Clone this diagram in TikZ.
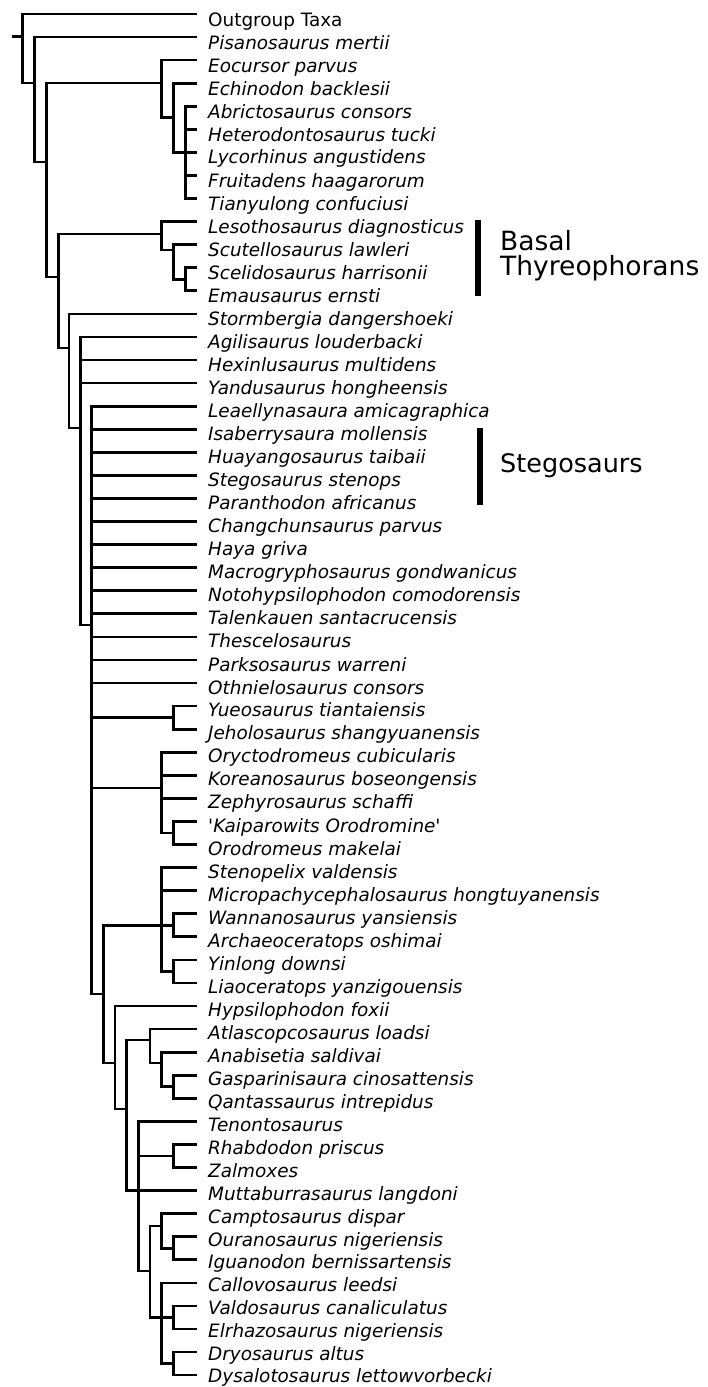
\documentclass[tikz,border=0pt]{standalone}
\usepackage{fontspec}
\setmainfont{DejaVu Sans}
\begin{document}
\begin{tikzpicture}[x=1pt,y=-1pt,
  branch/.style={line width=2.7pt},
  taxon/.style={anchor=base west,inner sep=0pt,xshift=11pt,yshift=#1,font=\fontsize{18.4}{22}\selectfont\itshape},
  taxon/.default=-10.5pt,
  cladebar/.style={line width=6.5pt},
  grouplabel/.style={inner sep=0pt,font=\fontsize{25.5}{25}\selectfont,align=left}]
\useasboundingbox (0,0) rectangle (708,1387);
% Tips (branch ends) and taxon names
\coordinate (t1) at (197,14.0);    \node[taxon=-12pt] (l1) at (t1) {\upshape Outgroup Taxa};
\coordinate (t2) at (197,37.1);    \node[taxon=-12pt] (l2) at (t2) {Pisanosaurus mertii};
\coordinate (t3) at (197,60.1);    \node[taxon=-12pt] (l3) at (t3) {Eocursor parvus};
\coordinate (t4) at (197,83.2);    \node[taxon=-12pt] (l4) at (t4) {Echinodon backlesii};
\coordinate (t5) at (197,106.3);   \node[taxon=-12pt] (l5) at (t5) {Abrictosaurus consors};
\coordinate (t6) at (197,129.4);   \node[taxon=-12pt] (l6) at (t6) {Heterodontosaurus tucki};
\coordinate (t7) at (197,152.4);   \node[taxon=-11.5pt] (l7) at (t7) {Lycorhinus angustidens};
\coordinate (t8) at (197,175.5);   \node[taxon=-11.5pt] (l8) at (t8) {Fruitadens haagarorum};
\coordinate (t9) at (197,198.6);   \node[taxon=-11.5pt] (l9) at (t9) {Tianyulong confuciusi};
\coordinate (t10) at (197,221.6);  \node[taxon=-11.5pt] (l10) at (t10) {Lesothosaurus diagnosticus};
\coordinate (t11) at (197,244.7);  \node[taxon=-11.5pt] (l11) at (t11) {Scutellosaurus lawleri};
\coordinate (t12) at (197,267.8);  \node[taxon=-11.5pt] (l12) at (t12) {Scelidosaurus harrisonii};
\coordinate (t13) at (197,290.8);  \node[taxon=-11.5pt] (l13) at (t13) {Emausaurus ernsti};
\coordinate (t14) at (197,313.9);  \node[taxon=-11.5pt] (l14) at (t14) {Stormbergia dangershoeki};
\coordinate (t15) at (197,337.0);  \node[taxon=-11.5pt] (l15) at (t15) {Agilisaurus louderbacki};
\coordinate (t16) at (197,360.1);  \node[taxon=-11pt] (l16) at (t16) {Hexinlusaurus multidens};
\coordinate (t17) at (197,383.1);  \node[taxon=-11pt] (l17) at (t17) {Yandusaurus hongheensis};
\coordinate (t18) at (197,406.2);  \node[taxon=-11pt] (l18) at (t18) {Leaellynasaura amicagraphica};
\coordinate (t19) at (197,429.3);  \node[taxon=-11pt] (l19) at (t19) {Isaberrysaura mollensis};
\coordinate (t20) at (197,452.3);  \node[taxon=-11pt] (l20) at (t20) {Huayangosaurus taibaii};
\coordinate (t21) at (197,475.4);  \node[taxon=-11pt] (l21) at (t21) {Stegosaurus stenops};
\coordinate (t22) at (197,498.5);  \node[taxon=-11pt] (l22) at (t22) {Paranthodon africanus};
\coordinate (t23) at (197,521.5);  \node[taxon=-11pt] (l23) at (t23) {Changchunsaurus parvus};
\coordinate (t24) at (197,544.6);  \node[taxon=-11pt] (l24) at (t24) {Haya griva};
\coordinate (t25) at (197,567.7);  \node[taxon=-11pt] (l25) at (t25) {Macrogryphosaurus gondwanicus};
\coordinate (t26) at (197,590.8);  \node[taxon=-11pt] (l26) at (t26) {Notohypsilophodon comodorensis};
\coordinate (t27) at (197,613.8);  \node[taxon=-11pt] (l27) at (t27) {Talenkauen santacrucensis};
\coordinate (t28) at (197,636.9);  \node[taxon=-11pt] (l28) at (t28) {Thescelosaurus};
\coordinate (t29) at (197,660.0);  \node[taxon=-11pt] (l29) at (t29) {Parksosaurus warreni};
\coordinate (t30) at (197,683.0);  \node[taxon=-11pt] (l30) at (t30) {Othnielosaurus consors};
\coordinate (t31) at (197,706.1);  \node[taxon] (l31) at (t31) {Yueosaurus tiantaiensis};
\coordinate (t32) at (197,729.2);  \node[taxon] (l32) at (t32) {Jeholosaurus shangyuanensis};
\coordinate (t33) at (197,752.2);  \node[taxon] (l33) at (t33) {Oryctodromeus cubicularis};
\coordinate (t34) at (197,775.3);  \node[taxon] (l34) at (t34) {Koreanosaurus boseongensis};
\coordinate (t35) at (197,798.4);  \node[taxon] (l35) at (t35) {Zephyrosaurus schaffi};
\coordinate (t36) at (197,821.5);  \node[taxon] (l36) at (t36) {\textquotesingle Kaiparowits Orodromine\textquotesingle};
\coordinate (t37) at (197,844.5);  \node[taxon] (l37) at (t37) {Orodromeus makelai};
\coordinate (t38) at (197,867.6);  \node[taxon] (l38) at (t38) {Stenopelix valdensis};
\coordinate (t39) at (197,890.7);  \node[taxon] (l39) at (t39) {Micropachycephalosaurus hongtuyanensis};
\coordinate (t40) at (197,913.7);  \node[taxon] (l40) at (t40) {Wannanosaurus yansiensis};
\coordinate (t41) at (197,936.8);  \node[taxon] (l41) at (t41) {Archaeoceratops oshimai};
\coordinate (t42) at (197,959.9);  \node[taxon] (l42) at (t42) {Yinlong downsi};
\coordinate (t43) at (197,982.9);  \node[taxon] (l43) at (t43) {Liaoceratops yanzigouensis};
\coordinate (t44) at (197,1006.0); \node[taxon] (l44) at (t44) {Hypsilophodon foxii};
\coordinate (t45) at (197,1029.1); \node[taxon=-10pt] (l45) at (t45) {Atlascopcosaurus loadsi};
\coordinate (t46) at (197,1052.2); \node[taxon=-10pt] (l46) at (t46) {Anabisetia saldivai};
\coordinate (t47) at (197,1075.2); \node[taxon=-10pt] (l47) at (t47) {Gasparinisaura cinosattensis};
\coordinate (t48) at (197,1098.3); \node[taxon=-10pt] (l48) at (t48) {Qantassaurus intrepidus};
\coordinate (t49) at (197,1121.4); \node[taxon=-10pt] (l49) at (t49) {Tenontosaurus};
\coordinate (t50) at (197,1144.4); \node[taxon=-10pt] (l50) at (t50) {Rhabdodon priscus};
\coordinate (t51) at (197,1167.5); \node[taxon=-9.5pt] (l51) at (t51) {Zalmoxes};
\coordinate (t52) at (197,1190.6); \node[taxon=-9.5pt] (l52) at (t52) {Muttaburrasaurus langdoni};
\coordinate (t53) at (197,1213.6); \node[taxon=-9.5pt] (l53) at (t53) {Camptosaurus dispar};
\coordinate (t54) at (197,1236.7); \node[taxon=-9.5pt] (l54) at (t54) {Ouranosaurus nigeriensis};
\coordinate (t55) at (197,1259.8); \node[taxon=-9pt] (l55) at (t55) {Iguanodon bernissartensis};
\coordinate (t56) at (197,1282.9); \node[taxon=-9pt] (l56) at (t56) {Callovosaurus leedsi};
\coordinate (t57) at (197,1305.9); \node[taxon=-9pt] (l57) at (t57) {Valdosaurus canaliculatus};
\coordinate (t58) at (197,1329.0); \node[taxon=-8.5pt] (l58) at (t58) {Elrhazosaurus nigeriensis};
\coordinate (t59) at (197,1352.1); \node[taxon=-8pt] (l59) at (t59) {Dryosaurus altus};
\coordinate (t60) at (197,1375.1); \node[taxon=-7pt] (l60) at (t60) {Dysalotosaurus lettowvorbecki};
% Internal nodes
\coordinate (stub) at (11.7,36.7);
\coordinate (root) at (22.7,36.7);
\coordinate (nOrn) at (34.5,83);
\coordinate (nB) at (46.7,162);
\coordinate (nHet) at (161.7,83);
\coordinate (nHetA) at (173.3,117.8);
\coordinate (nHetB) at (185.2,152.4);
\coordinate (nGena) at (58.3,277);
\coordinate (nThy) at (161.7,234);
\coordinate (nThyA) at (173.3,250);
\coordinate (nThyB) at (185.2,279.3);
\coordinate (nNeo) at (69,348);
\coordinate (nNeoA) at (80.3,428);
\coordinate (nNeoB) at (91.7,625);
\coordinate (nYue) at (173.3,717.6);
\coordinate (nOro) at (161.7,788);
\coordinate (nOroA) at (173.3,833);
\coordinate (nCer) at (103.3,994);
\coordinate (nMarg) at (161.7,925.3);
\coordinate (nMargA) at (173.3,925.3);
\coordinate (nMargB) at (173.3,971.4);
\coordinate (nOrnp) at (115,1063);
\coordinate (nOrnpA) at (126.7,1109);
\coordinate (nEla) at (150,1040);
\coordinate (nElaA) at (161.7,1063);
\coordinate (nElaB) at (173.3,1086.7);
\coordinate (nIgu) at (138.3,1190.6);
\coordinate (nRha) at (173.3,1156);
\coordinate (nAnk) at (150,1271);
\coordinate (nAnkA) at (161.7,1226);
\coordinate (nAnkB) at (173.3,1248.2);
\coordinate (nDry) at (161.7,1317.5);
\coordinate (nDryA) at (173.3,1317.5);
\coordinate (nDryB) at (173.3,1363.6);
% Branches
\draw[branch] (stub) -- (root);
\draw[branch] (root) |- (t1); \draw[branch] (root) |- (nOrn);
\draw[branch] (nOrn) |- (t2); \draw[branch] (nOrn) |- (nB);
\draw[branch] (nB) |- (nHet); \draw[branch] (nB) |- (nGena);
\draw[branch] (nHet) |- (t3); \draw[branch] (nHet) |- (nHetA);
\draw[branch] (nHetA) |- (t4); \draw[branch] (nHetA) |- (nHetB);
\draw[branch] (nHetB) |- (t5); \draw[branch] (nHetB) |- (t6); \draw[branch] (nHetB) |- (t7);
\draw[branch] (nHetB) |- (t8); \draw[branch] (nHetB) |- (t9);
\draw[branch] (nGena) |- (nThy); \draw[branch] (nGena) |- (nNeo);
\draw[branch] (nThy) |- (t10); \draw[branch] (nThy) |- (nThyA);
\draw[branch] (nThyA) |- (t11); \draw[branch] (nThyA) |- (nThyB);
\draw[branch] (nThyB) |- (t12); \draw[branch] (nThyB) |- (t13);
\draw[branch] (nNeo) |- (t14); \draw[branch] (nNeo) |- (nNeoA);
\draw[branch] (nNeoA) |- (t15); \draw[branch] (nNeoA) |- (t16); \draw[branch] (nNeoA) |- (t17);
\draw[branch] (nNeoA) |- (nNeoB);
\draw[branch] (nNeoB) |- (t18); \draw[branch] (nNeoB) |- (t19); \draw[branch] (nNeoB) |- (t20);
\draw[branch] (nNeoB) |- (t21); \draw[branch] (nNeoB) |- (t22); \draw[branch] (nNeoB) |- (t23);
\draw[branch] (nNeoB) |- (t24); \draw[branch] (nNeoB) |- (t25); \draw[branch] (nNeoB) |- (t26);
\draw[branch] (nNeoB) |- (t27); \draw[branch] (nNeoB) |- (t28); \draw[branch] (nNeoB) |- (t29);
\draw[branch] (nNeoB) |- (t30); \draw[branch] (nNeoB) |- (nYue); \draw[branch] (nNeoB) |- (nOro);
\draw[branch] (nNeoB) |- (nCer);
\draw[branch] (nYue) |- (t31); \draw[branch] (nYue) |- (t32);
\draw[branch] (nOro) |- (t33); \draw[branch] (nOro) |- (t34); \draw[branch] (nOro) |- (t35);
\draw[branch] (nOro) |- (nOroA);
\draw[branch] (nOroA) |- (t36); \draw[branch] (nOroA) |- (t37);
\draw[branch] (nCer) |- (nMarg); \draw[branch] (nCer) |- (nOrnp);
\draw[branch] (nMarg) |- (t38); \draw[branch] (nMarg) |- (t39);
\draw[branch] (nMarg) |- (nMargA); \draw[branch] (nMarg) |- (nMargB);
\draw[branch] (nMargA) |- (t40); \draw[branch] (nMargA) |- (t41);
\draw[branch] (nMargB) |- (t42); \draw[branch] (nMargB) |- (t43);
\draw[branch] (nOrnp) |- (t44); \draw[branch] (nOrnp) |- (nOrnpA);
\draw[branch] (nOrnpA) |- (nEla); \draw[branch] (nOrnpA) |- (nIgu);
\draw[branch] (nEla) |- (t45); \draw[branch] (nEla) |- (nElaA);
\draw[branch] (nElaA) |- (t46); \draw[branch] (nElaA) |- (nElaB);
\draw[branch] (nElaB) |- (t47); \draw[branch] (nElaB) |- (t48);
\draw[branch] (nIgu) |- (t49); \draw[branch] (nIgu) |- (nRha); \draw[branch] (nIgu) |- (t52);
\draw[branch] (nIgu) |- (nAnk);
\draw[branch] (nRha) |- (t50); \draw[branch] (nRha) |- (t51);
\draw[branch] (nAnk) |- (nAnkA); \draw[branch] (nAnk) |- (nDry);
\draw[branch] (nAnkA) |- (t53); \draw[branch] (nAnkA) |- (nAnkB);
\draw[branch] (nAnkB) |- (t54); \draw[branch] (nAnkB) |- (t55);
\draw[branch] (nDry) |- (t56); \draw[branch] (nDry) |- (nDryA); \draw[branch] (nDry) |- (nDryB);
\draw[branch] (nDryA) |- (t57); \draw[branch] (nDryA) |- (t58);
\draw[branch] (nDryB) |- (t59); \draw[branch] (nDryB) |- (t60);
% Group bars and labels
\coordinate (thyTop) at (478,220); \coordinate (thyBot) at (478,296);
\draw[cladebar] (thyTop) -- (thyBot);
\node[grouplabel,anchor=west,font=\fontsize{26.5}{25}\selectfont] (thyLabel) at (500,256) {Basal\\Thyreophorans};
\coordinate (stegTop) at (480,428); \coordinate (stegBot) at (480,505);
\draw[cladebar] (stegTop) -- (stegBot);
\node[grouplabel,anchor=base west] (stegLabel) at (500,472) {Stegosaurs};
\end{tikzpicture}
\end{document}
